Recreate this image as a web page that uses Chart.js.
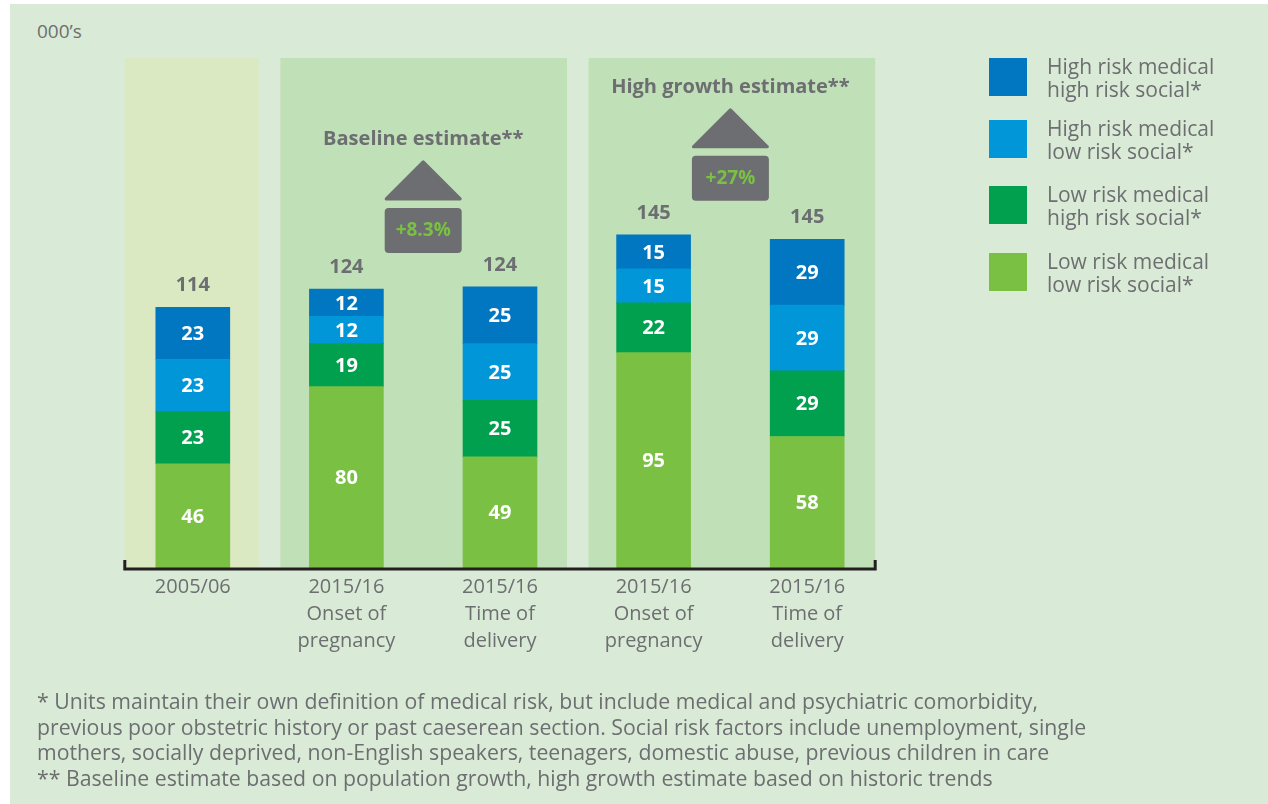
<!DOCTYPE html>
<html><head><meta charset="utf-8">
<script src="https://cdn.jsdelivr.net/npm/chart.js@4/dist/chart.umd.min.js"></script>
<style>
html,body{margin:0;padding:0;background:#fff;width:1268px;height:804px;overflow:hidden;font-family:"Open Sans",sans-serif;}
#bg{position:absolute;left:10px;top:4px;right:0;bottom:0;background:#d9ebd6;}
#wrap{position:absolute;left:0;top:0;width:1268px;height:804px;}
#unit{position:absolute;left:37px;top:18px;font-size:19px;line-height:26px;color:#6d6e71;}
#legend{position:absolute;left:989px;top:58px;}
.item{position:absolute;left:0;width:275px;height:38px;}
.sw{position:absolute;left:0;top:0;width:38px;height:38px;}
.lt{position:absolute;left:58px;top:-3px;font-size:21px;line-height:23px;color:#6d6e71;white-space:nowrap;}
#notes{position:absolute;left:37px;top:688px;font-size:21.25px;line-height:25.7px;color:#6d6e71;white-space:nowrap;}
</style></head>
<body>
<div id="bg"></div>
<div id="unit">000’s</div>
<div id="wrap"><canvas id="c" width="1268" height="804"></canvas></div>
<div id="legend"></div>
<div id="notes">* Units maintain their own definition of medical risk, but include medical and psychiatric comorbidity,<br>previous poor obstetric history or past caeserean section. Social risk factors include unemployment, single<br>mothers, socially deprived, non-English speakers, teenagers, domestic abuse, previous children in care<br>** Baseline estimate based on population growth, high growth estimate based on historic trends</div>
<script>
const categories = [["2005/06"],["2015/16","Onset of","pregnancy"],["2015/16","Time of","delivery"],["2015/16","Onset of","pregnancy"],["2015/16","Time of","delivery"]];
const lowMedLowSoc   = [46, 80, 49, 95, 58];
const lowMedHighSoc  = [23, 19, 25, 22, 29];
const highMedLowSoc  = [23, 12, 25, 15, 29];
const highMedHighSoc = [23, 12, 25, 15, 29];
const totals = [114, 124, 124, 145, 145];
const seriesNames = [["Low risk medical","low risk social*"],["Low risk medical","high risk social*"],["High risk medical","low risk social*"],["High risk medical","high risk social*"]];
const seriesColors = ["#7ac143","#00a04f","#0096d8","#0077c0"];
const groupTitles = ["Baseline estimate**","High growth estimate**"];
const groupChanges = ["+8.3%","+27%"];
const groupMembers = [[1,2],[3,4]];

const GREY = "#6d6e71";
const FONT = '"Open Sans", sans-serif';
const series = [lowMedLowSoc, lowMedHighSoc, highMedLowSoc, highMedHighSoc];

// legend (top = last series)
const leg = document.getElementById('legend');
const tops = [0, 62, 128, 195];
[3,2,1,0].forEach((s,k)=>{
  const it = document.createElement('div');
  it.className='item'; it.style.top = tops[k]+'px';
  it.innerHTML = '<div class="sw" style="background:'+seriesColors[s]+'"></div><div class="lt">'+seriesNames[s][0]+'<br>'+seriesNames[s][1]+'</div>';
  leg.appendChild(it);
});

function rr(ctx,x,y,w,h,r){
  ctx.beginPath();
  ctx.moveTo(x+r,y);ctx.lineTo(x+w-r,y);ctx.quadraticCurveTo(x+w,y,x+w,y+r);
  ctx.lineTo(x+w,y+h-r);ctx.quadraticCurveTo(x+w,y+h,x+w-r,y+h);
  ctx.lineTo(x+r,y+h);ctx.quadraticCurveTo(x,y+h,x,y+h-r);
  ctx.lineTo(x,y+r);ctx.quadraticCurveTo(x,y,x+r,y);ctx.closePath();
}

const overlay = {
  id:'overlay',
  beforeDatasetsDraw(chart){
    const {ctx, chartArea:a, scales:{x}} = chart;
    const p = i => x.getPixelForValue(i);
    ctx.save();
    ctx.fillStyle = '#dbe9c2';
    ctx.fillRect(p(0)-68, a.top, 134, a.bottom-a.top);
    ctx.fillStyle = '#c0e0b7';
    ctx.fillRect(p(1)-66, a.top, p(2)-p(1)+133, a.bottom-a.top);
    ctx.fillRect(p(3)-65, a.top, p(4)-p(3)+133, a.bottom-a.top);
    ctx.restore();
  },
  afterDatasetsDraw(chart){
    const {ctx, chartArea:a, scales:{x,y}} = chart;
    const p = i => x.getPixelForValue(i);
    ctx.save();
    ctx.textAlign='center'; ctx.textBaseline='middle';
    // segment labels
    ctx.font = 'bold 20px '+FONT; ctx.fillStyle='#fff';
    chart.data.datasets.forEach((ds,di)=>{
      chart.getDatasetMeta(di).data.forEach((el,i)=>{
        ctx.fillText(String(ds.data[i]), el.x, (el.y+el.base)/2+1);
      });
    });
    // totals
    const sums = categories.map((c,i)=>series.reduce((s,arr)=>s+arr[i],0));
    ctx.fillStyle = GREY;
    sums.forEach((s,i)=>{ ctx.fillText(String(totals[i]), p(i), y.getPixelForValue(s)-22); });
    // axis bracket
    ctx.strokeStyle='#231f20'; ctx.lineWidth=3; ctx.lineJoin='miter';
    const ay = a.bottom+1;
    ctx.beginPath();
    ctx.moveTo(p(0)-68, ay-9); ctx.lineTo(p(0)-68, ay); ctx.lineTo(p(4)+68, ay); ctx.lineTo(p(4)+68, ay-9);
    ctx.stroke();
    // group annotations
    groupMembers.forEach((g,k)=>{
      const cx = (p(g[0])+p(g[1]))/2;
      const topY = Math.min(...g.map(i=>y.getPixelForValue(sums[i])));
      const boxB = topY-34, boxT = boxB-45;
      ctx.fillStyle = GREY;
      rr(ctx, cx-38.5, boxT, 77, 45, 4); ctx.fill();
      const tb = boxT-8, ta = tb-40;
      ctx.beginPath(); ctx.moveTo(cx, ta+2); ctx.lineTo(cx+37, tb-1); ctx.lineTo(cx-37, tb-1); ctx.closePath();
      ctx.lineJoin='round'; ctx.lineWidth=3; ctx.strokeStyle=GREY; ctx.fill(); ctx.stroke();
      ctx.font='bold 19px '+FONT; ctx.fillStyle='#7ac143';
      ctx.fillText(groupChanges[k], cx, boxT+23);
      ctx.font='bold 20px '+FONT; ctx.fillStyle=GREY;
      ctx.fillText(groupTitles[k], cx, ta-21);
    });
    ctx.restore();
  }
};

new Chart(document.getElementById('c'), {
  type:'bar',
  data:{
    labels: categories,
    datasets: series.map((d,i)=>({label: seriesNames[i].join(' '), data:d, backgroundColor: seriesColors[i], borderWidth:0, barThickness:74}))
  },
  options:{
    responsive:false, animation:false,
    layout:{padding:{left:116, right:384, top:58, bottom:143}},
    plugins:{legend:{display:false}, tooltip:{enabled:false}},
    scales:{
      x:{stacked:true, grid:{display:false, drawTicks:false}, border:{display:false},
         ticks:{color:GREY, padding:6, font:{family:FONT, size:20, lineHeight:1.35}, maxRotation:0, autoSkip:false}},
      y:{stacked:true, display:false, min:0, max:225}
    }
  },
  plugins:[overlay]
});
</script>
</body></html>
